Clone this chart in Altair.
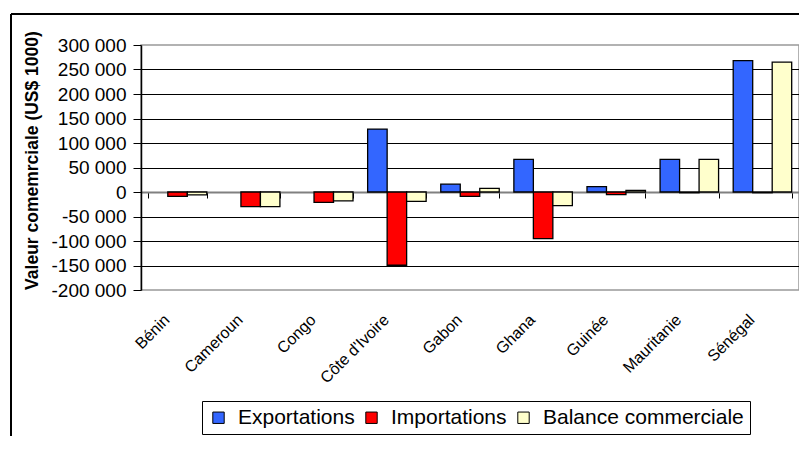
import altair as alt
import pandas as pd

countries = ["Bénin", "Cameroun", "Congo", "Côte d'Ivoire", "Gabon", "Ghana",
             "Guinée", "Mauritanie", "Sénégal"]
exportations = [0, 0, 0, 128500, 16000, 66500, 11000, 66500, 268000]
importations = [-9000, -30000, -21000, -149500, -9000, -95000, -5500, -1500, -1500]
balance = [-6000, -30000, -18000, -19000, 7500, -28000, 3500, 66500, 265000]
series = ["Exportations", "Importations", "Balance commerciale"]
colors = ["#3366FF", "#FF0000", "#FFFFCC"]
y_ticks = list(range(-200000, 300001, 50000))

rows = []
for i, c in enumerate(countries):
    for s, vals in zip(series, [exportations, importations, balance]):
        rows.append({"pays": c, "serie": s, "valeur": vals[i]})
df = pd.DataFrame(rows)

FONT = "Liberation Sans"

label_expr = "(datum.value < 0 ? '-' : '') + replace(format(abs(datum.value), ','), ',', ' ')"

bars = alt.Chart(df).transform_filter("datum.valeur != 0").mark_bar(
    stroke="black", strokeWidth=1.3
).encode(
    x=alt.X("pays:N", sort=countries,
            scale=alt.Scale(paddingInner=0.2, paddingOuter=0.1),
            axis=alt.Axis(orient="bottom", offset=-98, tickBand="extent",
                          ticks=True, tickSize=6, tickColor="black", tickWidth=1,
                          domainColor="#808080", domainWidth=2,
                          labelAngle=-45, labelAlign="right", labelBaseline="middle",
                          labelPadding=119, labelOffset=-11,
                          labelFont=FONT, labelFontSize=16, labelColor="black",
                          grid=False, title=None)),
    xOffset=alt.XOffset("serie:N", sort=series,
                        scale=alt.Scale(paddingInner=0, paddingOuter=0)),
    y=alt.Y("valeur:Q",
            scale=alt.Scale(domain=[-200000, 300000], nice=False, zero=False),
            axis=alt.Axis(values=y_ticks, labelExpr=label_expr,
                          tickSize=8, tickColor="black", tickWidth=1,
                          domainColor="black", domainWidth=1.5,
                          labelPadding=7, labelFont=FONT, labelFontSize=19,
                          labelColor="black",
                          grid=True, gridColor="black", gridWidth=1,
                          gridOpacity={"condition": {"test": "datum.value == 0 || datum.value == 300000 || datum.value == -200000", "value": 0}, "value": 1},
                          title="Valeur comemrciale (US$ 1000)",
                          titleFont=FONT, titleFontSize=17.5, titleFontWeight="bold",
                          titleColor="black", titleAngle=270,
                          titleAlign="center", titleBaseline="middle",
                          titleX=-109, titleY=115)),
    color=alt.Color("serie:N", sort=series,
                    scale=alt.Scale(domain=series, range=colors),
                    legend=alt.Legend(title=None, orient="none", legendX=61, legendY=356,
                                      direction="horizontal",
                                      strokeColor="black", fillColor="white", padding=6,
                                      symbolType="square", symbolSize=130,
                                      symbolStrokeColor="black", symbolStrokeWidth=1,
                                      labelFont=FONT, labelFontSize=21, labelColor="black",
                                      labelLimit=0, labelOffset=9, columnPadding=6)),
)

one = pd.DataFrame({"k": [0]})
frame_left = alt.Chart(one).mark_rule(color="black", strokeWidth=2).encode(
    x=alt.value(-130), y=alt.value(-31), y2=alt.value(400))
frame_top = alt.Chart(one).mark_rule(color="black", strokeWidth=2).encode(
    x=alt.value(-130), x2=alt.value(700), y=alt.value(-31))

chart = alt.layer(bars, frame_left, frame_top).properties(
    width=658, height=245,
    autosize=alt.AutoSizeParams(type="none"),
    padding={"left": 133, "top": 37, "right": 0, "bottom": 146},
    background="white",
).configure_view(stroke="#999999", strokeWidth=1.5)

chart.save("out.html", embed_options={"renderer": "svg", "actions": False})
